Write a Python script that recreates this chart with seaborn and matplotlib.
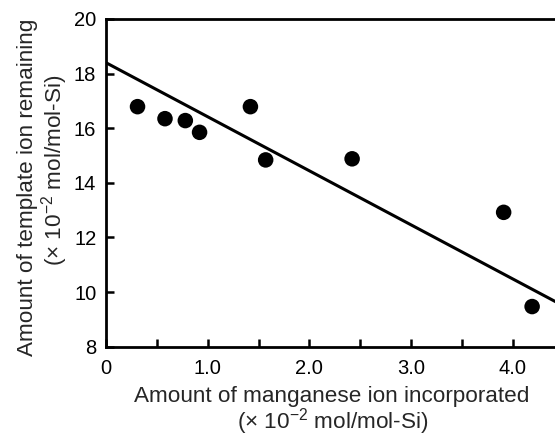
import numpy as np
import matplotlib.pyplot as plt
import seaborn as sns

# data
mn_incorporated = [0.31, 0.58, 0.78, 0.92, 1.42, 1.57, 2.42, 3.91, 4.19]
template_remaining = [16.79, 16.35, 16.28, 15.85, 16.79, 14.84, 14.88, 12.92, 9.47]

# fitted straight line (end points)
fit_x = [0.0, 4.45]
fit_y = [18.4, 9.59]

x_ticks = [0, 0.5, 1.0, 1.5, 2.0, 2.5, 3.0, 3.5, 4.0]
x_tick_labels = ['0', '', '1.0', '', '2.0', '', '3.0', '', '4.0']
y_ticks = [8, 10, 12, 14, 16, 18, 20]

sns.set_theme(style='ticks')
plt.rcParams['font.family'] = ['Liberation Sans', 'DejaVu Sans']
plt.rcParams['mathtext.fontset'] = 'custom'
plt.rcParams['mathtext.rm'] = 'Liberation Sans'
plt.rcParams['mathtext.it'] = 'Liberation Sans:italic'
plt.rcParams['mathtext.bf'] = 'Liberation Sans:bold'

fig = plt.figure(figsize=(5.55, 4.36), dpi=100)
ax = fig.add_axes([106 / 555, 1 - 346.7 / 436, 1 - 106 / 555, (346.7 - 19) / 436])

sns.lineplot(x=fit_x, y=fit_y, color='black', linewidth=2.2, ax=ax)
sns.scatterplot(x=mn_incorporated, y=template_remaining, s=125, color='black',
                edgecolor='none', zorder=3, ax=ax)

ax.set_xlim(0, 4.415)
ax.set_ylim(8, 20)
ax.set_xticks(x_ticks)
ax.set_xticklabels(x_tick_labels)
ax.set_yticks(y_ticks)
ax.set_yticklabels([str(v) for v in y_ticks])

ax.tick_params(direction='in', length=5.5, width=1.8, labelsize=14.5,
               colors='black')
ax.tick_params(axis='x', pad=9)
ax.tick_params(axis='y', pad=7)

for side in ['left', 'bottom', 'top']:
    ax.spines[side].set_linewidth(2)
    ax.spines[side].set_color('black')
ax.spines['right'].set_visible(False)

ax.set_xlabel('')
ax.set_ylabel('')

# axis titles, two lines each
fig.text(332 / 555, 1 - 402 / 436, 'Amount of manganese ion incorporated',
         ha='center', va='baseline', fontsize=16.2)
fig.text(333 / 555, 1 - 428 / 436, r'(× 10$^{-2}$ mol/mol-Si)',
         ha='center', va='baseline', fontsize=16.2)
fig.text(33 / 555, 1 - 187 / 436, 'Amount of template ion remaining',
         ha='center', va='baseline', rotation=90, rotation_mode='anchor',
         fontsize=16.2)
fig.text(61 / 555, 1 - 170 / 436, r'(× 10$^{-2}$ mol/mol-Si)',
         ha='center', va='baseline', rotation=90, rotation_mode='anchor',
         fontsize=16.2)

fig.savefig('out.png', dpi=100)
plt.close()
